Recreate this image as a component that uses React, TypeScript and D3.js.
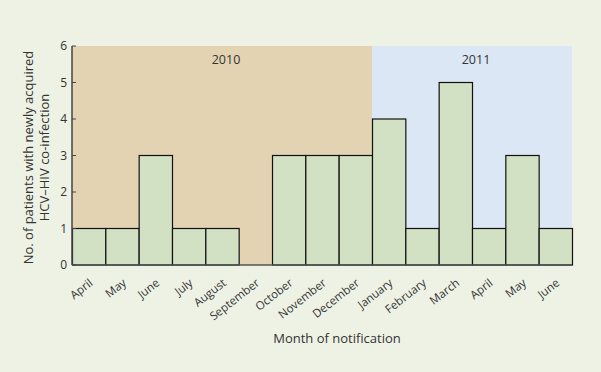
import React from "react";
import * as d3 from "d3";

const months = ["April","May","June","July","August","September","October","November","December","January","February","March","April","May","June"];
const counts = [1,1,3,1,1,0,3,3,3,4,1,5,1,3,1];
const years = ["2010","2011"];
const yearSpans = [[0,8],[9,14]];
const yTicks = [0,1,2,3,4,5,6];

const W = 601, H = 372;
const left = 72, right = 572, top = 46, bottom = 265;

export default function App() {
  const keys = months.map((m, i) => i);
  const x = d3.scaleBand<number>().domain(keys).range([left, right]).padding(0);
  const y = d3.scaleLinear().domain([0, 6]).range([bottom, top]);
  const font = "'Open Sans', 'DejaVu Sans', sans-serif";
  const bg = ["#e3d3b3", "#dbe7f5"];
  return (
    <svg width={W} height={H} style={{ position: "absolute", left: 0, top: 0 }} fontFamily={font}>
      <rect x={0} y={0} width={W} height={H} fill="#eef2e5" />
      {yearSpans.map((s, i) => {
        const x0 = x(s[0])!;
        const x1 = x(s[1])! + x.bandwidth();
        return (
          <g key={i}>
            <rect x={x0} y={top} width={x1 - x0} height={bottom - top} fill={bg[i]} />
            <text x={(x0 + x1) / 2 + 4} y={64} textAnchor="middle" fontSize={12.5} fill="#333">{years[i]}</text>
          </g>
        );
      })}
      {counts.map((c, i) => c > 0 ? (
        <rect key={i} x={x(i)! + 0.5} y={y(c)} width={x.bandwidth()} height={y(0) - y(c)} fill="#d2e0c3" stroke="#111" strokeWidth={1.2} />
      ) : null)}
      <line x1={left} x2={left} y1={top} y2={bottom} stroke="#444" strokeWidth={1.5} />
      <line x1={left} x2={right} y1={bottom} y2={bottom} stroke="#555" strokeWidth={1.5} />
      {yTicks.map(t => (
        <g key={t}>
          <line x1={left} x2={left + 4} y1={y(t)} y2={y(t)} stroke="#444" strokeWidth={1} />
          <text x={67} y={y(t)} dy="0.35em" textAnchor="end" fontSize={12} fill="#333">{t}</text>
        </g>
      ))}
      {months.map((m, i) => {
        const cx = x(i)! + x.bandwidth() / 2;
        return (
          <text key={i} transform={`translate(${cx},${278}) rotate(-38)`} textAnchor="end" fontSize={11.5} fill="#333" dy="0.7em">{m}</text>
        );
      })}
      <text x={337} y={343} textAnchor="middle" fontSize={13} fill="#333">Month of notification</text>
      <g transform={`translate(33,${(top + bottom) / 2 + 2}) rotate(-90)`}>
        <text x={0} y={0} textAnchor="middle" fontSize={13} fill="#333">No. of patients with newly acquired</text>
        <text x={0} y={16} textAnchor="middle" fontSize={13} fill="#333">HCV–HIV co-infection</text>
      </g>
    </svg>
  );
}
